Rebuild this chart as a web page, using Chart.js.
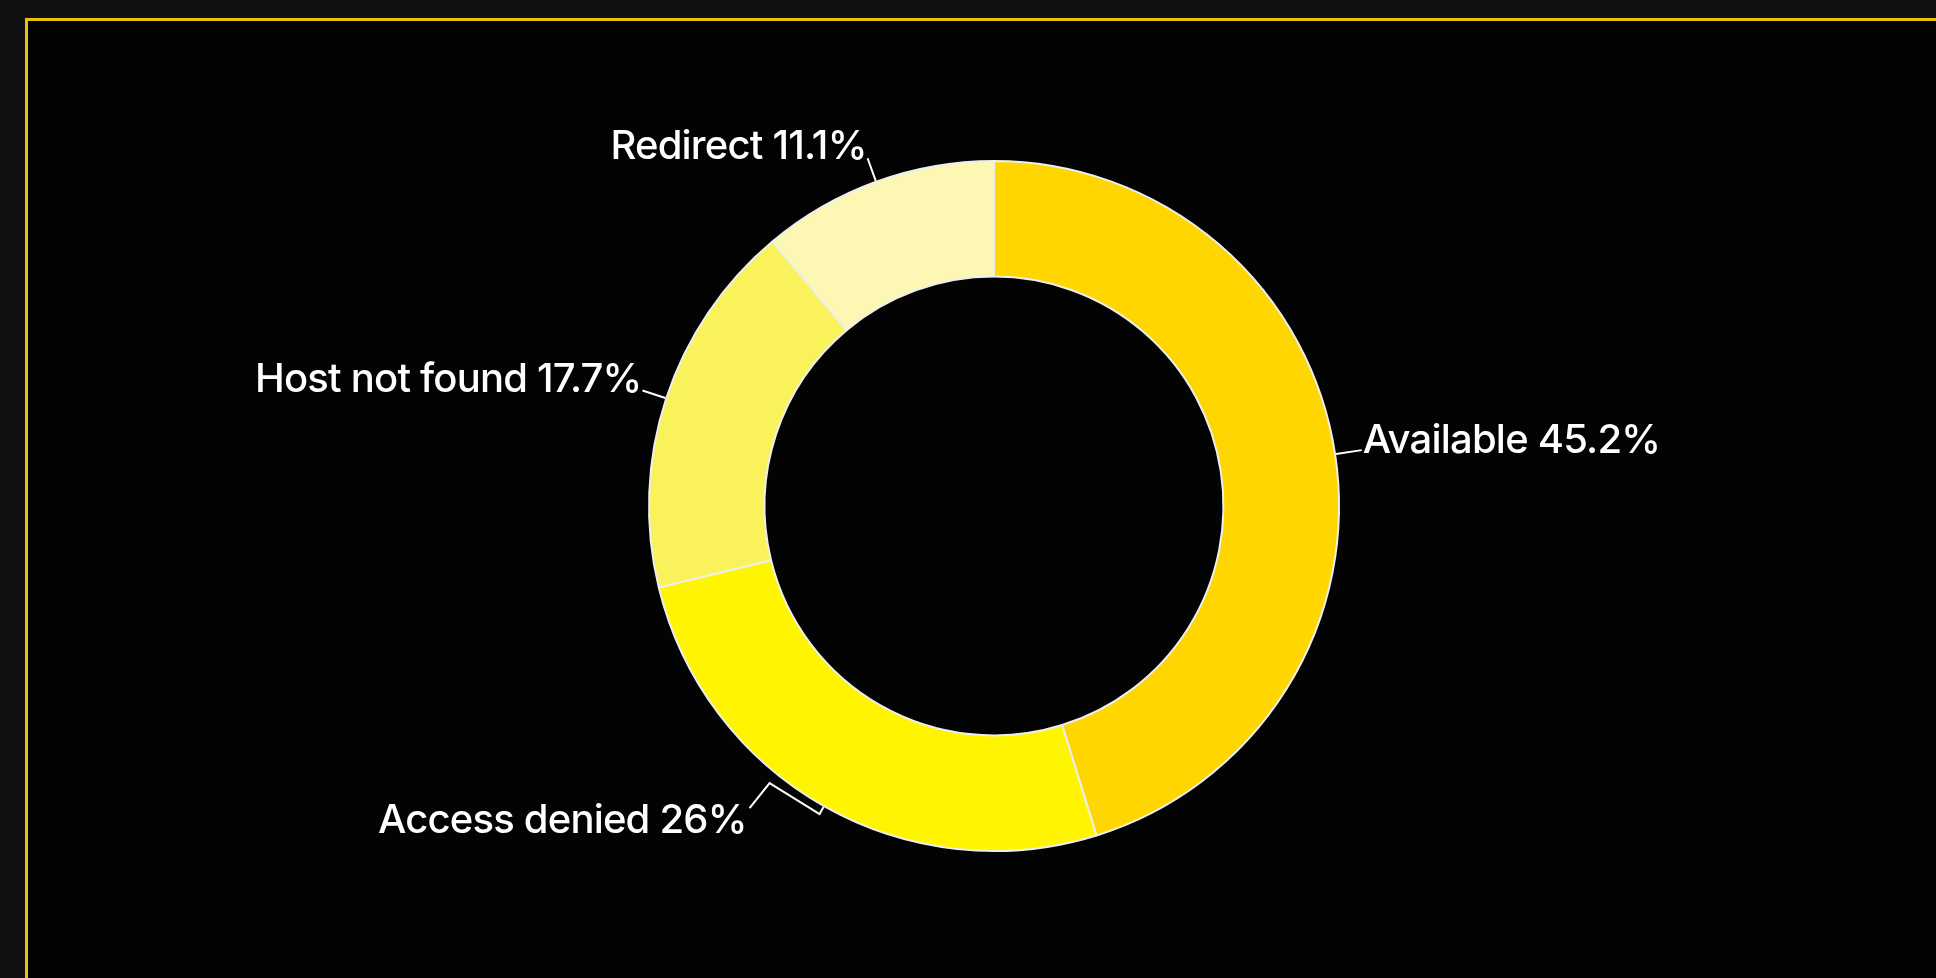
<!DOCTYPE html>
<html>
<head>
<meta charset="utf-8">
<script src="https://cdn.jsdelivr.net/npm/chart.js@4.4.0/dist/chart.umd.min.js"></script>
<style>
  html, body { margin: 0; padding: 0; background: #111111; overflow: hidden; }
  .frame {
    position: absolute; left: 25px; top: 18px;
    width: 2000px; height: 1100px;
    border: 3px solid #e8c400;
    background: #030303;
  }
  .wrap { position: absolute; left: 0; top: 0; width: 1936px; height: 978px; }
</style>
</head>
<body>
<div class="frame"></div>
<div class="wrap"><canvas id="chart"></canvas></div>
<script>
var labels = ["Available", "Access denied", "Host not found", "Redirect"];
var values = [45.2, 26, 17.7, 11.1];
var colors = ["#ffd600", "#fff500", "#f9f25a", "#fcf8b3"];

// per label: radial line length, optional kink, and which side the text goes
var labelLayout = [
  { len: 26, side: "right" },
  { len: 8, side: "left", kink: [[-50, -31], [-20, 25]], textOff: [-2, 24] },
  { len: 24, side: "left" },
  { len: 24, side: "left" }
];

var sliceLabels = {
  id: "sliceLabels",
  afterDraw: function (chart) {
    var ctx = chart.ctx;
    var arcs = chart.getDatasetMeta(0).data;
    ctx.save();
    ctx.font = "500 40px Inter";
    ctx.letterSpacing = "-0.8px";
    ctx.fillStyle = "#ffffff";
    ctx.strokeStyle = "#ffffff";
    ctx.lineWidth = 2;
    ctx.textBaseline = "alphabetic";
    arcs.forEach(function (arc, i) {
      var p = arc.getProps(["x", "y", "startAngle", "endAngle", "outerRadius"], true);
      var mid = (p.startAngle + p.endAngle) / 2;
      var r = p.outerRadius + 1;
      var lay = labelLayout[i];
      var x0 = p.x + Math.cos(mid) * r, y0 = p.y + Math.sin(mid) * r;
      var x1 = p.x + Math.cos(mid) * (r + lay.len), y1 = p.y + Math.sin(mid) * (r + lay.len);
      ctx.beginPath();
      ctx.moveTo(x0, y0);
      ctx.lineTo(x1, y1);
      var tx = x1, ty = y1;
      if (lay.kink) {
        lay.kink.forEach(function (d) { tx += d[0]; ty += d[1]; ctx.lineTo(tx, ty); });
        tx += lay.textOff[0]; ty += lay.textOff[1];
      }
      ctx.stroke();
      var txt = labels[i] + " " + values[i] + "%";
      if (lay.side === "right") {
        ctx.textAlign = "left";
        ctx.fillText(txt, tx + 1, ty + 3);
      } else {
        ctx.textAlign = "right";
        ctx.fillText(txt, tx - 1, ty + 1);
      }
    });
    ctx.restore();
  }
};

new Chart(document.getElementById("chart"), {
  type: "doughnut",
  data: {
    labels: labels,
    datasets: [{
      data: values,
      backgroundColor: colors,
      borderColor: "#eeeeee",
      borderWidth: 2
    }]
  },
  options: {
    responsive: true,
    maintainAspectRatio: false,
    animation: false,
    cutout: "66.5%",
    layout: { padding: { left: 100, right: 48, top: 160, bottom: 126 } },
    plugins: {
      legend: { display: false },
      tooltip: { enabled: false }
    }
  },
  plugins: [sliceLabels]
});
</script>
</body>
</html>
